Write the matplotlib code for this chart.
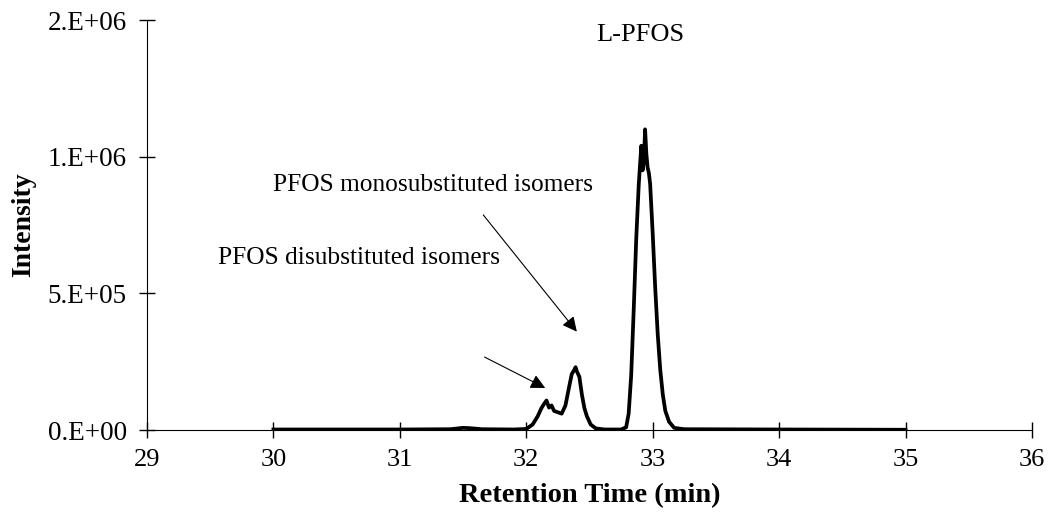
import matplotlib
matplotlib.use("Agg")
import matplotlib.pyplot as plt

# chromatogram
rt = [30.0, 31.0, 31.4, 31.5, 31.55, 31.65, 31.9, 32.0, 32.05, 32.09,
      32.12, 32.14, 32.16, 32.18, 32.2, 32.22, 32.25, 32.28, 32.31, 32.34,
      32.36, 32.38, 32.39, 32.40, 32.42, 32.44, 32.46, 32.48, 32.51, 32.55,
      32.62, 32.75, 32.79, 32.81, 32.83, 32.85, 32.87, 32.89, 32.91, 32.92,
      32.93, 32.94, 32.95, 32.96, 32.97, 32.98, 33.0, 33.02, 33.04, 33.06,
      33.08, 33.1, 33.13, 33.17, 33.25, 34.0, 35.0]
intensity = [2000, 2000, 3000, 8000, 7000, 3000, 2000, 4000, 20000, 50000,
             80000, 95000, 108000, 82000, 90000, 70000, 65000, 60000, 90000, 160000,
             205000, 220000, 230000, 215000, 195000, 130000, 80000, 50000, 20000, 6000,
             2000, 2000, 10000, 60000, 200000, 440000, 700000, 900000, 1040000, 950000,
             980000, 1100000, 1010000, 960000, 940000, 900000, 720000, 520000, 350000, 220000,
             130000, 70000, 30000, 8000, 3000, 2000, 1000]

xticks = [29, 30, 31, 32, 33, 34, 35, 36]
yticks = [0, 5e5, 1e6, 1.5e6]
ytick_labels = ["0.E+00", "5.E+05", "1.E+06", "2.E+06"]

plt.rcParams['font.family'] = ['Liberation Serif', 'DejaVu Serif']
plt.rcParams['font.size'] = 19

fig = plt.figure(figsize=(10.53, 5.2), dpi=100)
ax = fig.add_axes([0.1396, 0.173, 0.8404, 0.7885])

ax.plot(rt, intensity, color='black', lw=2.7)

ax.set_xlim(29, 36)
ax.set_ylim(0, 1.5e6)
ax.set_xticks(xticks)
ax.set_yticks(yticks)
ax.set_yticklabels(ytick_labels, fontsize=19.5)
ax.tick_params(direction='inout', length=11, width=1)
ax.tick_params(axis='y', pad=9)
ax.tick_params(axis='x', pad=8)
for s in ['top', 'right']:
    ax.spines[s].set_visible(False)

ax.set_xlabel("Retention Time (min)", fontweight='bold', fontsize=20.5, labelpad=9)
ax.set_ylabel("Intensity", fontweight='bold', fontsize=20, labelpad=8)

ax.text(32.9, 1.445e6, "L-PFOS", ha='center', va='center')
ax.text(30.0, 0.896e6, "PFOS monosubstituted isomers", ha='left', va='center', fontsize=18.3)
ax.text(29.56, 0.63e6, "PFOS disubstituted isomers", ha='left', va='center', fontsize=18.3)

arrow = dict(arrowstyle='-|>', color='black', lw=0.8, mutation_scale=22, shrinkA=0, shrinkB=0)
ax.annotate("", xy=(32.40, 0.36e6), xytext=(31.66, 0.787e6), arrowprops=arrow)
ax.annotate("", xy=(32.15, 0.154e6), xytext=(31.67, 0.267e6), arrowprops=arrow)

fig.savefig("out.png", dpi=100)
